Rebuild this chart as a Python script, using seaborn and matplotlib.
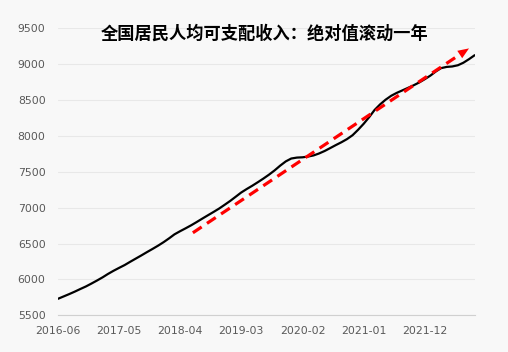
import pandas as pd
import numpy as np
import seaborn as sns
import matplotlib.pyplot as plt

# rolling one-year per-capita disposable income, monthly from 2016-06
income = [5730, 5762, 5795, 5830, 5866, 5902, 5942, 5985, 6030, 6075,
          6120, 6160, 6200, 6245, 6290, 6335, 6380, 6425, 6470, 6520,
          6575, 6628, 6672, 6712, 6755, 6800, 6848, 6895, 6940, 6988,
          7040, 7095, 7155, 7210, 7260, 7305, 7355, 7405, 7460, 7520,
          7585, 7645, 7685, 7698, 7702, 7712, 7728, 7755, 7790, 7830,
          7872, 7912, 7955, 8010, 8085, 8170, 8265, 8360, 8440, 8505,
          8560, 8600, 8635, 8670, 8705, 8745, 8790, 8840, 8900, 8945,
          8962, 8968, 8985, 9020, 9070, 9125]
dates = pd.date_range("2016-06-01", periods=len(income), freq="MS")

trend_dates = pd.to_datetime(["2018-06-10", "2022-08-01"])
trend_vals = [6650, 9220]

tick_labels = ["2016-06", "2017-05", "2018-04", "2019-03",
               "2020-02", "2021-01", "2021-12"]
title = "全国居民人均可支配收入：绝对值滚动一年"

df = pd.DataFrame({"date": dates, "income": income})

sns.set_style("white")
plt.rcParams["font.family"] = ["Noto Sans CJK SC", "DejaVu Sans"]

fig = plt.figure(figsize=(5.08, 3.52), dpi=100, facecolor="#f8f8f8")
ax = fig.add_axes([0.1142, 0.1043, 0.8202, 0.8153])
ax.set_facecolor("none")

sns.lineplot(data=df, x="date", y="income", color="black", lw=1.6, ax=ax)

# dashed trend arrow: shaft stops short, head drawn on top
slope = (trend_vals[1] - trend_vals[0]) / (trend_dates[1] - trend_dates[0]).days
back = pd.Timedelta(days=45)
shaft_end = (trend_dates[1] - back, trend_vals[1] - slope * back.days)
ax.plot([trend_dates[0], shaft_end[0]], [trend_vals[0], shaft_end[1]],
        color="red", lw=2.3, linestyle=(0, (3.3, 2)), solid_capstyle="butt")
ax.annotate("", xy=(trend_dates[1], trend_vals[1]), xycoords="data",
            xytext=(-30, -19.8), textcoords="offset points",
            arrowprops=dict(arrowstyle="-|>,head_length=0.8,head_width=0.32",
                            color="red", lw=0, mutation_scale=10,
                            shrinkA=0, shrinkB=0))

ax.set_xlim(dates[0], dates[-1])
ax.set_ylim(5500, 9500)
ax.set_yticks(range(5500, 9501, 500))
ax.set_xticks(pd.to_datetime(tick_labels))
ax.set_xticklabels(tick_labels)
ax.set_xlabel("")
ax.set_ylabel("")

ax.grid(axis="y", color="#e8e8e8", lw=0.8)
ax.grid(axis="x", visible=False)
for s in ["left", "right", "top"]:
    ax.spines[s].set_visible(False)
ax.spines["bottom"].set_color("#d0d0d0")
for lab in ax.get_xticklabels() + ax.get_yticklabels():
    lab.set_fontfamily("DejaVu Sans")
ax.tick_params(axis="x", direction="in", length=4, color="#d0d0d0",
               labelsize=7.8, labelcolor="#595959", pad=8)
ax.tick_params(axis="y", length=0, labelsize=7.8, labelcolor="#595959", pad=9)

fig.text(265 / 508, 1 - 33.5 / 352, title, ha="center", va="center",
         fontsize=12.4, fontweight="bold", color="black")

fig.savefig("out.png", dpi=100, facecolor=fig.get_facecolor())
